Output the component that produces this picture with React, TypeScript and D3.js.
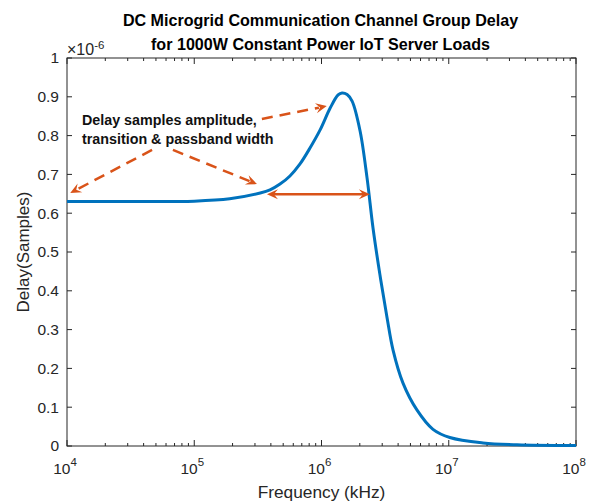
import React from "react";
import * as d3 from "d3";

// Group delay curve: frequency (kHz) vs delay (samples)
const freqKHz = [
  1e4, 3.1e4, 1e5, 1.9e5, 3.3e5, 3.94e5, 4.72e5, 5.65e5, 6.78e5, 8.12e5, 9.73e5,
  1.17e6, 1.35e6, 1.45e6, 1.59e6, 1.74e6, 2.01e6, 2.28e6, 2.54e6, 2.88e6, 3.27e6,
  3.65e6, 4.37e6, 5.62e6, 7.52e6, 1.02e7, 1.86e7, 3.44e7, 1e8,
];
const delaySamples = [
  0.63e-6, 0.63e-6, 0.631e-6, 0.637e-6, 0.652e-6, 0.66e-6, 0.675e-6, 0.696e-6, 0.727e-6,
  0.768e-6, 0.814e-6, 0.871e-6, 0.905e-6, 0.91e-6, 0.906e-6, 0.889e-6, 0.812e-6,
  0.691e-6, 0.562e-6, 0.441e-6, 0.332e-6, 0.247e-6, 0.162e-6, 0.093e-6, 0.043e-6,
  0.022e-6, 0.008e-6, 0.003e-6, 0.001e-6,
];

const yTicks = [0, 0.1e-6, 0.2e-6, 0.3e-6, 0.4e-6, 0.5e-6, 0.6e-6, 0.7e-6, 0.8e-6, 0.9e-6, 1e-6];
const yTickLabels = ["0", "0.1", "0.2", "0.3", "0.4", "0.5", "0.6", "0.7", "0.8", "0.9", "1"];
const xDecades = [1e4, 1e5, 1e6, 1e7, 1e8];
const xDecadeExponents = ["4", "5", "6", "7", "8"];

const titleLines = [
  "DC Microgrid Communication Channel Group Delay",
  "for 1000W Constant Power IoT Server Loads",
];
const noteLines = ["Delay samples amplitude,", "transition & passband width"];

// Annotation arrows in data units: [fromFreq, fromDelay, toFreq, toDelay]
const dashedArrows = [
  [3.4e5, 0.843e-6, 1.1e6, 0.876e-6],
  [4.66e4, 0.763e-6, 1.06e4, 0.652e-6],
  [6.8e4, 0.763e-6, 3.11e5, 0.675e-6],
];
const widthArrow = [3.73e5, 0.649e-6, 2.4e6, 0.649e-6];

const W = 596;
const H = 503;
const left = 67;
const right = 576;
const top = 58;
const bottom = 446;

const BLUE = "#0072BD";
const ORANGE = "#D95319";
const AXIS = "#262626";
const FONT = "Arial, 'Liberation Sans', Helvetica, sans-serif";

function arrowHead(x: number, y: number, angle: number, key: string) {
  const L = 11;
  const Wd = 10;
  const p = [
    [0, 0],
    [-L, -Wd / 2],
    [-L * 0.62, 0],
    [-L, Wd / 2],
  ];
  const c = Math.cos(angle);
  const s = Math.sin(angle);
  const d =
    "M" +
    p.map(([px, py]) => `${x + px * c - py * s},${y + px * s + py * c}`).join("L") +
    "Z";
  return <path key={key} d={d} fill={ORANGE} />;
}

export default function App() {
  const x = d3.scaleLog().domain([1e4, 1e8]).range([left, right]);
  const y = d3.scaleLinear().domain([0, 1e-6]).range([bottom, top]);

  const line = d3
    .line<number>()
    .x((_, i) => x(freqKHz[i]))
    .y((d) => y(d))
    .curve(d3.curveCatmullRom.alpha(0.5));

  const minorTicks: number[] = [];
  for (let e = 4; e < 8; e++) {
    for (let m = 2; m <= 9; m++) minorTicks.push(m * Math.pow(10, e));
  }

  const arrows: React.ReactNode[] = [];
  dashedArrows.forEach((a, i) => {
    const x1 = x(a[0]);
    const y1 = y(a[1]);
    const x2 = x(a[2]);
    const y2 = y(a[3]);
    const ang = Math.atan2(y2 - y1, x2 - x1);
    const ex = x2 - 8 * Math.cos(ang);
    const ey = y2 - 8 * Math.sin(ang);
    arrows.push(
      <line
        key={"dl" + i}
        x1={x1}
        y1={y1}
        x2={ex}
        y2={ey}
        stroke={ORANGE}
        strokeWidth={2.5}
        strokeDasharray="11,7"
      />
    );
    arrows.push(arrowHead(x2, y2, ang, "dh" + i));
  });
  {
    const x1 = x(widthArrow[0]);
    const y1 = y(widthArrow[1]);
    const x2 = x(widthArrow[2]);
    const y2 = y(widthArrow[3]);
    arrows.push(
      <line key="wl" x1={x1 + 6} y1={y1} x2={x2 - 6} y2={y2} stroke={ORANGE} strokeWidth={2.5} />
    );
    arrows.push(arrowHead(x2, y2, 0, "wh1"));
    arrows.push(arrowHead(x1, y1, Math.PI, "wh2"));
  }

  return (
    <svg
      width={W}
      height={H}
      style={{ position: "absolute", left: 0, top: 0, background: "#fff" }}
      fontFamily={FONT}
    >
      <rect width={W} height={H} fill="#fff" />
      {/* title */}
      {titleLines.map((t, i) => (
        <text
          key={t}
          x={(left + right) / 2 - 1}
          y={26 + i * 24}
          textAnchor="middle"
          fontWeight="bold"
          fontSize={16.1}
          fill="#000"
        >
          {t}
        </text>
      ))}

      {/* axes box */}
      <rect
        x={left}
        y={top}
        width={right - left}
        height={bottom - top}
        fill="#fff"
        stroke={AXIS}
        strokeWidth={1}
      />

      {/* y ticks */}
      {yTicks.map((v, i) => (
        <g key={"y" + i}>
          <line x1={left} x2={left + 5} y1={y(v)} y2={y(v)} stroke={AXIS} />
          <line x1={right} x2={right - 5} y1={y(v)} y2={y(v)} stroke={AXIS} />
          <text
            x={left - 8}
            y={y(v)}
            dy="0.35em"
            textAnchor="end"
            fontSize={15.5}
            fill={AXIS}
          >
            {yTickLabels[i]}
          </text>
        </g>
      ))}
      <text x={left} y={55} fontSize={16} fill={AXIS}>
        ×10
        <tspan dy={-6} fontSize={11.5}>
          -6
        </tspan>
      </text>

      {/* x ticks */}
      {xDecades.map((v, i) => (
        <g key={"x" + i}>
          <line x1={x(v)} x2={x(v)} y1={bottom} y2={bottom - 6} stroke={AXIS} />
          <line x1={x(v)} x2={x(v)} y1={top} y2={top + 6} stroke={AXIS} />
          <text x={x(v) - 2} y={474} textAnchor="middle" fontSize={15.5} fill={AXIS}>
            10
            <tspan dy={-8} fontSize={11.5}>
              {xDecadeExponents[i]}
            </tspan>
          </text>
        </g>
      ))}
      {minorTicks.map((v, i) => (
        <g key={"m" + i}>
          <line x1={x(v)} x2={x(v)} y1={bottom} y2={bottom - 3} stroke={AXIS} />
          <line x1={x(v)} x2={x(v)} y1={top} y2={top + 3} stroke={AXIS} />
        </g>
      ))}

      {/* axis labels */}
      <text x={(left + right) / 2} y={498} textAnchor="middle" fontSize={17.3} fill={AXIS}>
        Frequency (kHz)
      </text>
      <text
        transform={`translate(29,${(top + bottom) / 2}) rotate(-90)`}
        textAnchor="middle"
        fontSize={17}
        fill={AXIS}
      >
        Delay(Samples)
      </text>

      {/* curve */}
      <path d={line(delaySamples) || ""} fill="none" stroke={BLUE} strokeWidth={3} />

      {/* annotation */}
      {noteLines.map((t, i) => (
        <text key={t} x={82} y={125 + i * 19} fontSize={14.3} fontWeight="bold" fill="#111">
          {t}
        </text>
      ))}
      {arrows}
    </svg>
  );
}
